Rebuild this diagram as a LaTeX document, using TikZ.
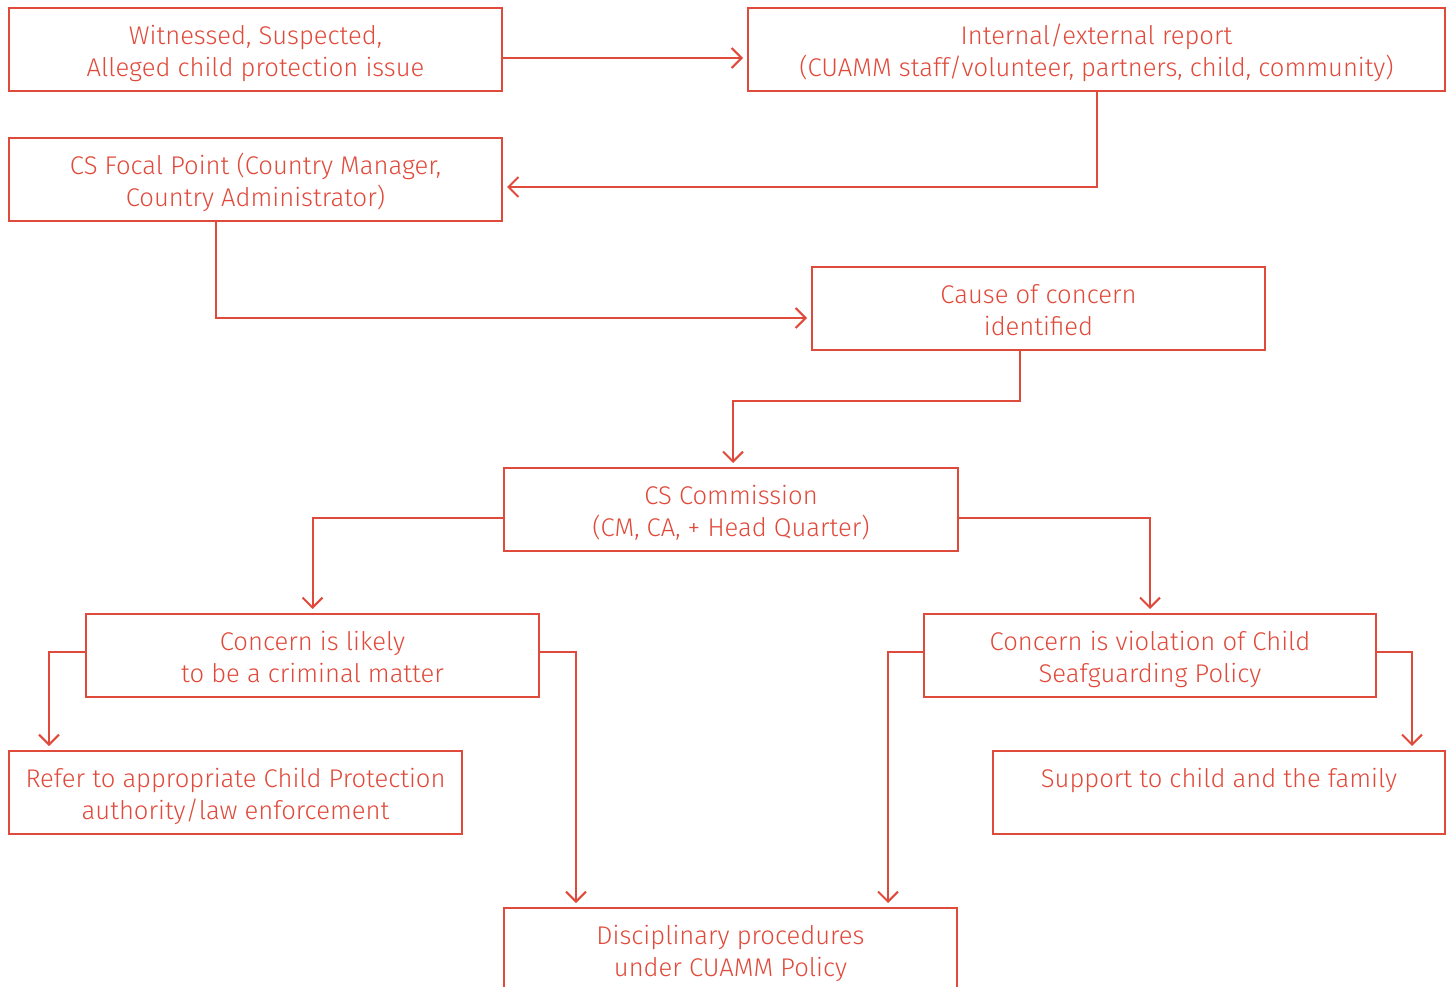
\documentclass[tikz,border=0pt]{standalone}
\usepackage{fontspec}
\setmainfont{Fira Sans}[UprightFont=* Light]
\usetikzlibrary{arrows.meta}
\definecolor{cuamm}{HTML}{E04A3B}
\newcommand\tstr{\rule{0pt}{29pt}}
\newcommand\bstr{\rule[-7pt]{0pt}{7pt}}
\begin{document}
\begin{tikzpicture}[x=1pt,y=-1pt,
 box/.style={draw=cuamm,line width=2pt,text=cuamm,align=center,inner sep=0pt,
   font=\fontsize{25.6}{32}\selectfont},
 conn/.style={draw=cuamm,line width=2pt,
   -{Straight Barb[length=10pt,width=20pt,line width=2pt]},shorten >=4pt}]
\clip (0,0) rectangle (1452,987);
\node[box,minimum width=493pt,minimum height=83pt] (a) at (255.5,49.5) {\tstr Witnessed, Suspected,\\Alleged child protection issue\bstr};
\node[box,minimum width=697pt,minimum height=83pt] (b) at (1096.5,49.5) {\tstr Internal/external report\\(CUAMM staff/volunteer, partners, child, community)\bstr};
\node[box,minimum width=493pt,minimum height=83pt] (c) at (255.5,179.5) {\tstr CS Focal Point (Country Manager,\\Country Administrator)\bstr};
\node[box,minimum width=453pt,minimum height=83pt] (d) at (1038.5,308.5) {\tstr Cause of concern\\identified\bstr};
\node[box,minimum width=454pt,minimum height=83pt] (e) at (731,509.5) {\tstr CS Commission\\(CM, CA, + Head Quarter)\bstr};
\node[box,minimum width=453pt,minimum height=83pt] (f) at (312.5,655.5) {\tstr Concern is likely\\to be a criminal matter\bstr};
\node[box,minimum width=452pt,minimum height=83pt] (g) at (1150,655.5) {\tstr Concern is violation of Child\\Seafguarding Policy\bstr};
\node[box,minimum width=453pt,minimum height=83pt] (h) at (235.5,792.5) {\tstr Refer to appropriate Child Protection\\authority/law enforcement\bstr};
\node[box,minimum width=452pt,minimum height=83pt] (i) at (1219,792.5) {\tstr Support to child and the family\\\bstr};
\node[box,minimum width=453pt,minimum height=83pt] (j) at (730.5,949.5) {\tstr Disciplinary procedures\\under CUAMM Policy\bstr};
\draw[conn] ([yshift=-8.5pt]a.east) -- ([yshift=-8.5pt]b.west);
\draw[conn] (b.south) |- ([yshift=-7.5pt]c.east);
\draw[conn] ([xshift=-39.5pt]c.south) |- ([yshift=-9.5pt]d.west);
\draw[conn] ([xshift=-18.5pt]d.south) -- ++(0,50) -| ([xshift=2pt]e.north);
\draw[conn] ([yshift=-8.5pt]e.west) -| (f.north);
\draw[conn] ([yshift=-8.5pt]e.east) -| (g.north);
\draw[conn] ([yshift=3.5pt]f.west) -| ([xshift=-186.5pt]h.north);
\draw[conn] ([yshift=3.5pt]f.east) -| ([xshift=-154.5pt]j.north);
\draw[conn] ([yshift=3.5pt]g.west) -| ([xshift=157.5pt]j.north);
\draw[conn] ([yshift=3.5pt]g.east) -| ([xshift=193pt]i.north);
\end{tikzpicture}
\end{document}
